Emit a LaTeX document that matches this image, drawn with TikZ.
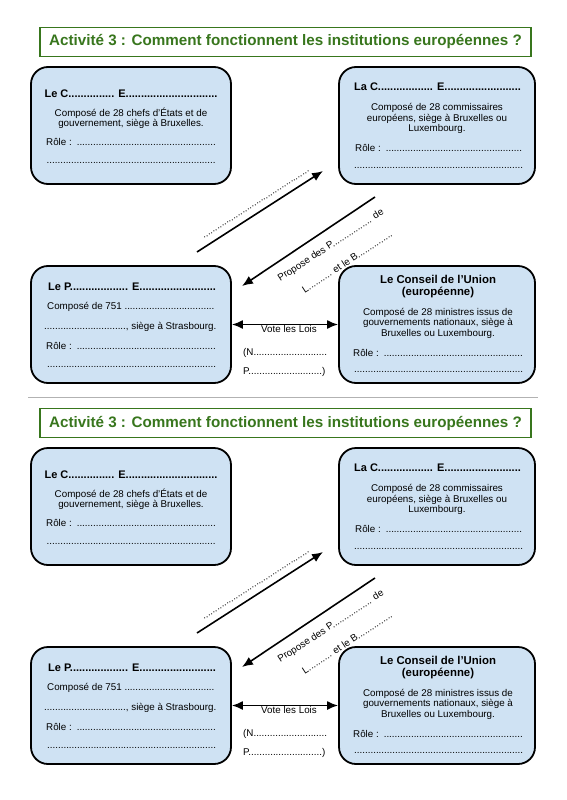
\documentclass[tikz,border=0pt]{standalone}
\usepackage{fontspec}
\setmainfont{Liberation Sans}
\usetikzlibrary{arrows.meta}
\definecolor{boxblue}{HTML}{CFE2F3}
\definecolor{tgreen}{HTML}{38761D}
\ExplSyntaxOn
\NewExpandableDocumentCommand\dd{m}{\prg_replicate:nn{#1}{.}}
\ExplSyntaxOff
\begin{document}
\begin{tikzpicture}[x=1pt,y=-1pt,
  inst/.style={draw=black, line width=1.8pt, fill=boxblue, rounded corners=17pt,
    minimum height=117pt, inner sep=0pt},
  body/.style={font=\fontsize{9.8}{10.5}\selectfont, inner sep=0pt},
  head/.style={font=\bfseries\fontsize{11}{13}\selectfont, inner sep=0pt},
  titlebox/.style={draw=tgreen, line width=1.3pt, minimum width=491pt, minimum height=29.5pt,
    inner sep=0pt, text=tgreen, font=\bfseries\fontsize{15.2}{18}\selectfont},
  arr/.style={line width=1.6pt, -{Latex[length=11pt,width=9pt]}},
  darr/.style={line width=1.6pt, {Latex[length=11pt,width=9pt]}-{Latex[length=11pt,width=9pt]}},
]
\useasboundingbox (0,0) rectangle (566,800);
\fill[white] (0,0) rectangle (566,800);
\draw[gray!60, line width=1pt] (28,397) -- (538,397);
\foreach \s/\o in {u/0,l/381}{
\begin{scope}[shift={(0,\o)}]
  \node[titlebox] (\s-title) at (285.5,42) {Activité 3 : Comment fonctionnent les institutions européennes ?};
  % boxes
  \node[inst, minimum width=200pt] (\s-b1) at (131,125.5) {};
  \node[inst, minimum width=196pt] (\s-b2) at (437,125.5) {};
  \node[inst, minimum width=200pt] (\s-b3) at (131,324.5) {};
  \node[inst, minimum width=196pt] (\s-b4) at (437,324.5) {};
  % box 1
  \node[head, anchor=base] (\s-b1h) at (131,97) {Le C\dd{15} E\dd{30}};
  \node[body, anchor=base] (\s-b1t1) at (131,116) {Composé de 28 chefs d’États et de};
  \node[body, anchor=base] (\s-b1t2) at (131,126.5) {gouvernement, siège à Bruxelles.};
  \node[body, anchor=base west] (\s-b1r) at (46,145.5) {Rôle :\hspace{5pt}\dd{51}};
  \node[body, anchor=base west] (\s-b1d) at (46.5,163.5) {\dd{62}};
  % box 2
  \node[head, anchor=base] (\s-b2h) at (437.5,90.5) {La C\dd{18} E\dd{25}};
  \node[body, anchor=base] (\s-b2t1) at (437,110.5) {Composé de 28 commissaires};
  \node[body, anchor=base] (\s-b2t2) at (437,121) {européens, siège à Bruxelles ou};
  \node[body, anchor=base] (\s-b2t3) at (437,131.5) {Luxembourg.};
  \node[body, anchor=base west] (\s-b2r) at (355,151.8) {Rôle :\hspace{5pt}\dd{50}};
  \node[body, anchor=base west] (\s-b2d) at (354,168.8) {\dd{62}};
  % box 3
  \node[head, anchor=base] (\s-b3h) at (132,290) {Le P\dd{19} E\dd{25}};
  \node[body, anchor=base west] (\s-b3t1) at (47,309.5) {Composé de 751 \dd{33}};
  \node[body, anchor=base west] (\s-b3t2) at (44,329.2) {\dd{30}, siège à Strasbourg.};
  \node[body, anchor=base west] (\s-b3r) at (46,349.2) {Rôle :\hspace{5pt}\dd{51}};
  \node[body, anchor=base west] (\s-b3d) at (47,367.2) {\dd{62}};
  % box 4
  \node[head, font=\bfseries\fontsize{11.4}{13}\selectfont, anchor=base] (\s-b4h1) at (438,283) {Le Conseil de l’Union};
  \node[head, font=\bfseries\fontsize{11.4}{13}\selectfont, anchor=base] (\s-b4h2) at (438,295.5) {(européenne)};
  \node[body, anchor=base] (\s-b4t1) at (438,315.2) {Composé de 28 ministres issus de};
  \node[body, anchor=base] (\s-b4t2) at (438,325.7) {gouvernements nationaux, siège à};
  \node[body, anchor=base] (\s-b4t3) at (438,336.2) {Bruxelles ou Luxembourg.};
  \node[body, anchor=base west] (\s-b4r) at (353,356.2) {Rôle :\hspace{5pt}\dd{51}};
  \node[body, anchor=base west] (\s-b4d) at (354,372.8) {\dd{62}};
  % arrows
  \coordinate (\s-a1s) at (197,252);
  \coordinate (\s-a1e) at (323,171);
  \coordinate (\s-a2s) at (375,197);
  \coordinate (\s-a2e) at (242,286);
  \draw[arr] (\s-a1s) -- (\s-a1e);
  \draw[arr] (\s-a2s) -- (\s-a2e);
  \node[body, rotate=32.5] (\s-a1lab) at (256.5,204.5) {\dd{46}};
  \node[body, rotate=33] (\s-a2lab1) at (331,245.5) {Propose des P\dd{17} de};
  \node[body, rotate=33] (\s-a2lab2) at (347,261.5) {L\dd{10} et le B\dd{15}};
  \draw[darr] (\s-b3.east) -- (\s-b4.west);
  \node[body, anchor=base] (\s-vote) at (289,332.5) {Vote les Lois};
  \node[body, anchor=base west] (\s-n) at (243,355.5) {(N\dd{27}};
  \node[body, anchor=base west] (\s-p) at (243,374.5) {P\dd{27})};
\end{scope}
}
\end{tikzpicture}
\end{document}
